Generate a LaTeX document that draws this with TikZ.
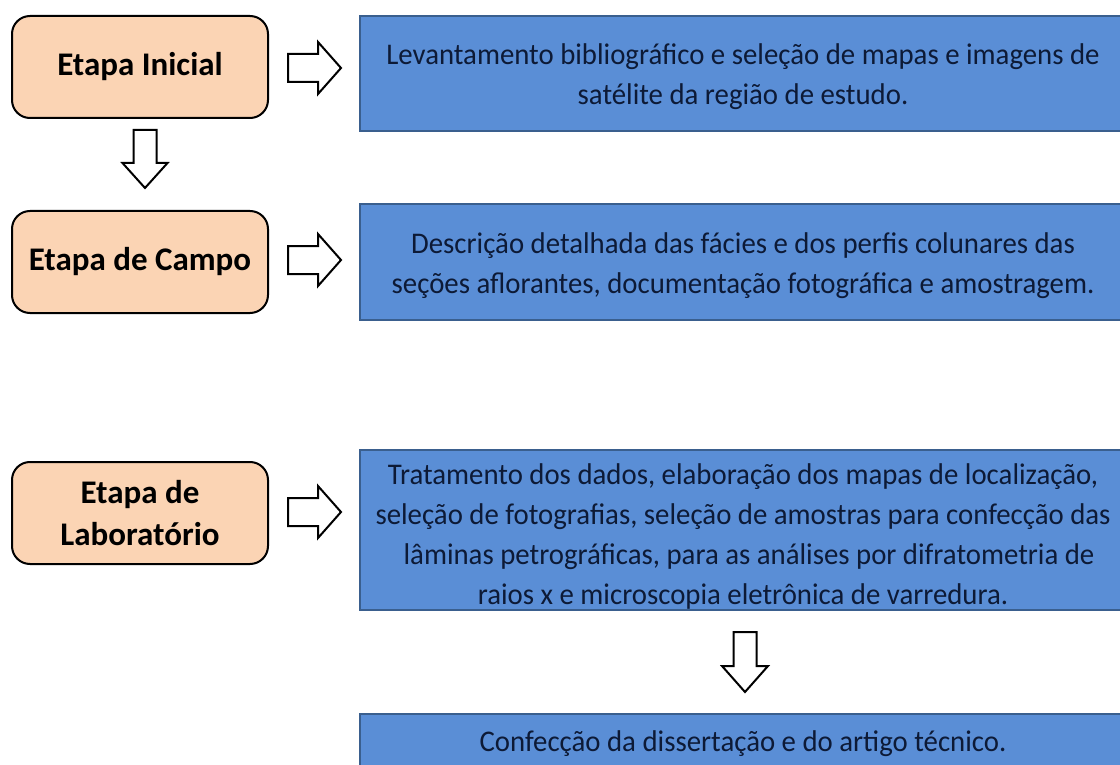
\documentclass[tikz,border=0pt]{standalone}
\usepackage{fontspec}
\setmainfont{Carlito}
\newfontfamily\taskfont{Carlito}[FakeStretch=0.96]
\definecolor{peach}{HTML}{FBD4B4}
\definecolor{bluefill}{HTML}{5A8ED6}
\definecolor{blueline}{HTML}{3A5F8E}
\definecolor{navy}{HTML}{0D1A36}
\begin{document}
\begin{tikzpicture}[x=1pt,y=-1pt,
  stage/.style={draw=black, line width=2pt, fill=peach, rounded corners=18pt,
    minimum width=256pt, minimum height=102pt, inner sep=0pt, align=center,
    font=\fontsize{33}{42}\selectfont\bfseries, text=black},
  task/.style={draw=blueline, line width=1.5pt, fill=bluefill, inner sep=0pt,
    minimum width=766pt},
  tasktext/.style={align=center, text=navy, inner sep=0pt,
    font=\taskfont\fontsize{30}{40}\selectfont},
  blockarrow/.style={draw=black, line width=2pt, fill=white, line join=miter}]
\useasboundingbox (0,0) rectangle (1120,765);
\fill[white] (0,0) rectangle (1120,765);
% left stage boxes
\node[stage] (s1) at (140,67) {\raisebox{-2pt}{Etapa Inicial}};
\node[stage] (s2) at (140,262) {Etapa de Campo};
\node[stage] (s3) at (140,513) {Etapa de\\Laboratório};
% right task boxes
\node[task, minimum height=115pt] (t1) at (743,73.5) {};
\node[tasktext] (t1text) at (743,77)
  {Levantamento bibliográfico e seleção de mapas e imagens de\\satélite da região de estudo.};
\node[task, minimum height=116pt] (t2) at (743,262) {};
\node[tasktext] (t2text) at (743,265.5)
  {Descrição detalhada das fácies e dos perfis colunares das\\seções aflorantes, documentação fotográfica e amostragem.};
\node[task, minimum height=160pt] (t3) at (743,530) {};
\node[tasktext] (t3text) at (743,536)
  {Tratamento dos dados, elaboração dos mapas de localização,\\seleção de fotografias, seleção de amostras para confecção das\\\hspace*{12pt}lâminas petrográficas, para as análises por difratometria de\\raios x e microscopia eletrônica de varredura.};
\node[task, minimum height=62pt, anchor=north] (t4) at (743,713) {};
\node[tasktext] (t4text) at (743,744)
  {Confecção da dissertação e do artigo técnico.};
% right block arrows (centred on named coordinates)
\coordinate (ra1) at (314.5,68);
\coordinate (ra2) at (314.5,260);
\coordinate (ra3) at (314.5,512);
\foreach \n in {ra1,ra2,ra3}{
  \draw[blockarrow, shift={(\n)}] (-26.5,-14) -- (3.5,-14) -- (3.5,-26) -- (26.5,0)
    -- (3.5,26) -- (3.5,14) -- (-26.5,14) -- cycle;
}
% down block arrows
\coordinate (da1) at (145,159);
\coordinate (da2) at (745,662);
\draw[blockarrow, shift={(da1)}] (-11.5,-29) -- (11.5,-29) -- (11.5,4) -- (22.5,4) -- (0,29)
  -- (-22.5,4) -- (-11.5,4) -- cycle;
\draw[blockarrow, shift={(da2)}] (-11.5,-30) -- (11.5,-30) -- (11.5,4) -- (23,4) -- (0,30)
  -- (-23,4) -- (-11.5,4) -- cycle;
\end{tikzpicture}
\end{document}
